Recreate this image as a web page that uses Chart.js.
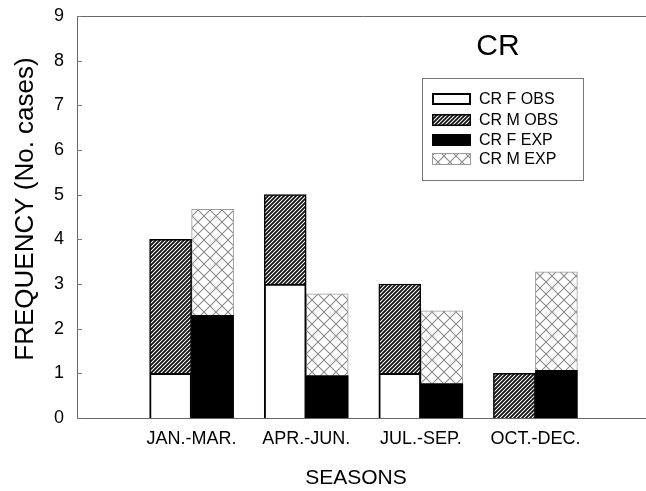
<!DOCTYPE html>
<html>
<head>
<meta charset="utf-8">
<script src="https://cdn.jsdelivr.net/npm/chart.js@4.4.1/dist/chart.umd.min.js"></script>
<style>
  html, body { margin: 0; padding: 0; background: #fff; overflow: hidden; }
  #wrap { width: 652px; height: 491px; }
</style>
</head>
<body>
<div id="wrap"><canvas id="c" width="652" height="491"></canvas></div>
<script>
// Seasons on the category axis
const seasons = ['JAN.-MAR.', 'APR.-JUN.', 'JUL.-SEP.', 'OCT.-DEC.'];

// Number of cases per season
const crFObs = [1, 3, 1, 0];
const crMObs = [3, 2, 2, 1];
const crFExp = [2.3, 0.95, 0.77, 1.07];
const crMExp = [2.37, 1.83, 1.63, 2.2];

// Y axis ticks
const yTicks = [0, 1, 2, 3, 4, 5, 6, 7, 8, 9];

const FONT = '"Liberation Sans", Arial, Helvetica, sans-serif';

// Fill patterns
function hatchPattern() {
  const s = 4;
  const cv = document.createElement('canvas');
  cv.width = s; cv.height = s;
  const g = cv.getContext('2d');
  g.fillStyle = '#fff';
  g.fillRect(0, 0, s, s);
  g.strokeStyle = '#111';
  g.lineWidth = 1.8;
  g.beginPath();
  g.moveTo(-1, s + 1); g.lineTo(s + 1, -1);
  g.moveTo(-1, 1); g.lineTo(1, -1);
  g.moveTo(s - 1, s + 1); g.lineTo(s + 1, s - 1);
  g.stroke();
  return g.createPattern(cv, 'repeat');
}
function crossPattern() {
  const s = 12;
  const cv = document.createElement('canvas');
  cv.width = s; cv.height = s;
  const g = cv.getContext('2d');
  g.fillStyle = '#fff';
  g.fillRect(0, 0, s, s);
  g.strokeStyle = '#8a8a8a';
  g.lineWidth = 1.1;
  g.beginPath();
  g.moveTo(0, 0); g.lineTo(s, s);
  g.moveTo(0, s); g.lineTo(s, 0);
  g.stroke();
  return g.createPattern(cv, 'repeat');
}

const hatch = hatchPattern();
const cross = crossPattern();

// Empty slots either side so the seasons sit at 1..4 on a 0..5 axis
const labels = [''].concat(seasons, ['']);
const pad = arr => [null].concat(arr, [null]);

// Legend swatch outline widths
const swatchBorder = [2, 1.5, 0, 1];

// Frame top line, inward y ticks, panel title, axis titles and boxed legend
const decor = {
  id: 'decor',
  afterDraw(chart) {
    const { ctx, chartArea: a, scales } = chart;
    const y = scales.y;
    ctx.save();
    // top frame line
    ctx.strokeStyle = '#666';
    ctx.lineWidth = 1;
    ctx.beginPath();
    ctx.moveTo(a.left, a.top + 0.5);
    ctx.lineTo(a.right, a.top + 0.5);
    ctx.stroke();
    // inward tick marks
    ctx.strokeStyle = '#777';
    yTicks.forEach(v => {
      const py = Math.round(y.getPixelForValue(v)) + 0.5;
      ctx.beginPath();
      ctx.moveTo(a.left, py);
      ctx.lineTo(a.left + 5, py);
      ctx.stroke();
    });
    // panel title
    ctx.fillStyle = '#000';
    ctx.textAlign = 'center';
    ctx.textBaseline = 'middle';
    ctx.font = '30px ' + FONT;
    ctx.fillText('CR', 498, 47);
    // axis titles
    ctx.font = '21px ' + FONT;
    ctx.fillText('SEASONS', 356, 478);
    ctx.save();
    ctx.translate(26, 209);
    ctx.rotate(-Math.PI / 2);
    ctx.font = '26px ' + FONT;
    ctx.fillText('FREQUENCY (No. cases)', 0, 0);
    ctx.restore();
    // boxed legend
    const bx = 422, by = 78, bw = 161, bh = 102;
    ctx.fillStyle = '#fff';
    ctx.fillRect(bx, by, bw, bh);
    ctx.strokeStyle = '#777';
    ctx.lineWidth = 1;
    ctx.strokeRect(bx + 0.5, by + 0.5, bw, bh);
    const rows = [99, 120, 140, 159];
    chart.data.datasets.forEach((ds, i) => {
      const cy = rows[i];
      const sx = 432, sw = 39, sh = 12, sy = cy - sh / 2;
      ctx.fillStyle = ds.backgroundColor;
      ctx.fillRect(sx, sy, sw, sh);
      const bw2 = swatchBorder[i];
      if (bw2 > 0) {
        ctx.strokeStyle = ds.borderColor;
        ctx.lineWidth = bw2;
        ctx.strokeRect(sx + bw2 / 2, sy + bw2 / 2, sw - bw2, sh - bw2);
      }
      ctx.fillStyle = '#000';
      ctx.textAlign = 'left';
      ctx.textBaseline = 'middle';
      ctx.font = '16px ' + FONT;
      ctx.fillText(ds.label, 479, cy + 1);
    });
    ctx.restore();
  }
};

new Chart(document.getElementById('c'), {
  type: 'bar',
  data: {
    labels: labels,
    datasets: [
      { label: 'CR F OBS', data: pad(crFObs), stack: 'obs', backgroundColor: '#ffffff', borderColor: '#000', borderWidth: 2 },
      { label: 'CR M OBS', data: pad(crMObs), stack: 'obs', backgroundColor: hatch, borderColor: '#000', borderWidth: 1.5 },
      { label: 'CR F EXP', data: pad(crFExp), stack: 'exp', backgroundColor: '#000', borderColor: '#000', borderWidth: 0 },
      { label: 'CR M EXP', data: pad(crMExp), stack: 'exp', backgroundColor: cross, borderColor: '#9a9a9a', borderWidth: 1 }
    ]
  },
  options: {
    responsive: false,
    animation: false,
    devicePixelRatio: 1,
    layout: { padding: { left: 0, right: 1, top: 16, bottom: 0 } },
    barThickness: 42,
    plugins: { legend: { display: false }, tooltip: { enabled: false } },
    scales: {
      x: {
        stacked: true,
        offset: false,
        grid: { display: false, offset: false },
        border: { display: true, color: '#666', width: 1 },
        ticks: { color: '#000', font: { family: FONT, size: 18 }, padding: 2, autoSkip: false, maxRotation: 0 },
        afterFit: s => { s.height = 73; }
      },
      y: {
        stacked: true,
        min: 0,
        max: 9,
        grid: { display: false },
        border: { display: true, color: '#666', width: 1 },
        ticks: { color: '#000', font: { family: FONT, size: 18 }, padding: 5, stepSize: 1 },
        afterFit: s => { s.width = 77; }
      }
    }
  },
  plugins: [decor]
});
</script>
</body>
</html>
